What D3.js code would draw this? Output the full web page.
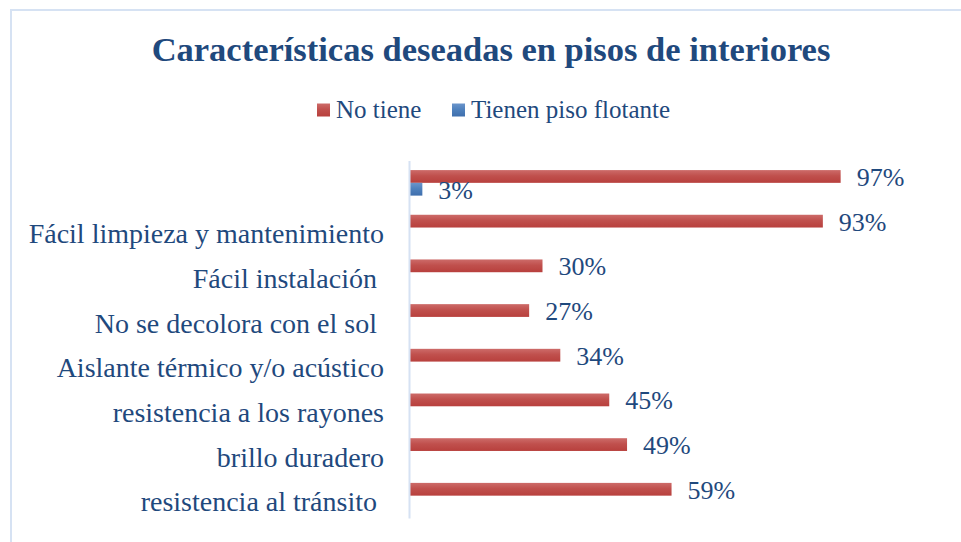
<!DOCTYPE html>
<html>
<head>
<meta charset="utf-8">
<script src="https://cdn.jsdelivr.net/npm/d3@7"></script>
<style>
  body { margin: 0; background: #fff; }
  text { white-space: pre; }
</style>
</head>
<body>
<div id="chart"></div>
<script>
// data, top to bottom as in the picture
const categories = ["", "Fácil limpieza y mantenimiento", "Fácil instalación ", "No se decolora con el sol ",
  "Aislante térmico y/o acústico", "resistencia a los rayones", "brillo duradero", "resistencia al tránsito "];
const series = ["No tiene", "Tienen piso flotante"];
const noTiene = [0.97, 0.93, 0.30, 0.27, 0.34, 0.45, 0.49, 0.59];
const tienenPiso = [0.03, null, null, null, null, null, null, null];

const width = 961, height = 542;
const textColor = "#1F497D";
const font = "'Liberation Serif', 'Times New Roman', serif";

const svg = d3.select("#chart")
  .append("svg")
    .attr("width", width)
    .attr("height", height);

// gradients like the office bars
const defs = svg.append("defs");
function grad(id, top, mid, bottom) {
  const g = defs.append("linearGradient").attr("id", id)
    .attr("x1", 0).attr("y1", 0).attr("x2", 0).attr("y2", 1);
  g.append("stop").attr("offset", "0%").attr("stop-color", top);
  g.append("stop").attr("offset", "45%").attr("stop-color", mid);
  g.append("stop").attr("offset", "100%").attr("stop-color", bottom);
}
grad("gRed", "#CD6B69", "#C0504D", "#B8403D");
grad("gBlue", "#6B95CB", "#4F81BD", "#3F6FAD");
const fills = {"No tiene": "url(#gRed)", "Tienen piso flotante": "url(#gBlue)"};

// chart border
svg.append("rect")
  .attr("x", 11).attr("y", 10)
  .attr("width", width + 20).attr("height", height + 20)
  .attr("fill", "none")
  .attr("stroke", "#D6E2F3")
  .attr("stroke-width", 2);

// title
svg.append("text")
  .attr("x", 491).attr("y", 61)
  .attr("text-anchor", "middle")
  .attr("font-family", font)
  .attr("font-weight", "bold")
  .attr("font-size", 34.5)
  .attr("fill", textColor)
  .text("Características deseadas en pisos de interiores");

// scales
const x = d3.scaleLinear().domain([0, 1]).range([409, 854]);
const y = d3.scaleBand().domain(categories).range([160.5, 518]);
const ySub = d3.scaleBand().domain(series).range([0, y.bandwidth()]).paddingOuter(0.75);

// rows
const rows = categories.map((c, i) => ({
  cat: c,
  values: [
    {key: series[0], value: noTiene[i]},
    {key: series[1], value: tienenPiso[i]}
  ].filter(d => d.value != null)
}));

const group = svg.append("g")
  .selectAll("g")
  .data(rows)
  .join("g")
    .attr("transform", d => `translate(0,${y(d.cat)})`);

group.selectAll("rect")
  .data(d => d.values)
  .join("rect")
    .attr("x", x(0))
    .attr("y", d => ySub(d.key))
    .attr("width", d => x(d.value) - x(0))
    .attr("height", ySub.bandwidth())
    .attr("fill", d => fills[d.key]);

group.selectAll("text")
  .data(d => d.values)
  .join("text")
    .attr("x", d => x(d.value) + 16)
    .attr("y", d => ySub(d.key) + ySub.bandwidth() / 2)
    .attr("dy", "0.36em")
    .attr("font-family", font)
    .attr("font-size", 26)
    .attr("fill", textColor)
    .text(d => d3.format(".0%")(d.value));

// category axis
const axis = svg.append("g")
  .attr("transform", `translate(${x(0)},0)`)
  .call(d3.axisLeft(y).tickSize(0).tickPadding(25));
axis.select(".domain")
  .attr("stroke", "#D6E2F3")
  .attr("stroke-width", 2);
axis.selectAll(".tick text")
  .attr("font-family", font)
  .attr("font-size", 28)
  .attr("fill", textColor)
  .attr("dy", "0.33em")
  .attr("y", ySub.bandwidth() / 2);

// legend
const legendX = [317, 452];
const legend = svg.append("g")
  .selectAll("g")
  .data(series)
  .join("g")
    .attr("transform", (d, i) => `translate(${legendX[i]},103.5)`);
legend.append("rect")
  .attr("width", 13).attr("height", 13)
  .attr("fill", d => fills[d]);
legend.append("text")
  .attr("x", 19).attr("y", 14.5)
  .attr("font-family", font)
  .attr("font-size", 25)
  .attr("fill", textColor)
  .text(d => d);
</script>
</body>
</html>
